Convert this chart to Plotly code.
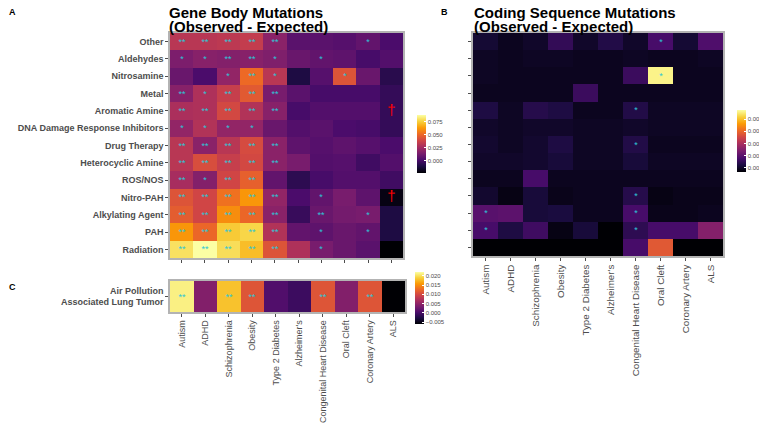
import plotly.graph_objects as go

# the page adds an 8px body margin, so the figure is drawn 8px smaller
OFF = 8
W, H = 767 - OFF, 430 - OFF

diseases = ["Autism", "ADHD", "Schizophrenia", "Obesity", "Type 2 Diabetes",
            "Alzheimer's", "Congenital Heart Disease", "Oral Cleft",
            "Coronary Artery", "ALS"]
exposures = ["Other", "Aldehydes", "Nitrosamine", "Metal", "Aromatic Amine",
             "DNA Damage Response Inhibitors", "Drug Therapy", "Heterocyclic Amine",
             "ROS/NOS", "Nitro-PAH", "Alkylating Agent", "PAH", "Radiation"]
lung_label = ["Air Pollution<br>Associated Lung Tumor"]

# gene body mutations (observed - expected), one row per exposure
gene_body = [
    [0.032, 0.032, 0.033, 0.035, 0.019, 0.006, 0.006, 0.005, 0.008, 0.002],
    [0.015, 0.018, 0.017, 0.018, 0.016, 0.010, 0.008, 0.007, 0.001, 0.004],
    [0.010, 0.002, 0.021, 0.051, 0.032, -0.010, 0.005, 0.044, 0.010, -0.007],
    [0.018, 0.029, 0.036, 0.046, 0.014, 0.006, 0.001, 0.001, 0.001, -0.004],
    [0.028, 0.029, 0.040, 0.030, 0.018, 0.001, 0.004, 0.004, 0.004, -0.004],
    [0.021, 0.030, 0.021, 0.021, 0.010, 0.004, 0.006, 0.002, 0.001, -0.004],
    [0.032, 0.019, 0.032, 0.041, 0.019, 0.007, 0.005, 0.007, 0.005, 0.002],
    [0.032, 0.042, 0.036, 0.040, 0.019, 0.014, 0.004, 0.005, -0.001, 0.004],
    [0.027, 0.017, 0.039, 0.048, 0.008, -0.006, 0.001, 0.004, 0.004, -0.001],
    [0.044, 0.039, 0.053, 0.062, 0.021, 0.002, 0.008, 0.014, 0.007, -0.020],
    [0.047, 0.039, 0.060, 0.050, 0.019, -0.003, 0.010, 0.013, 0.014, -0.010],
    [0.062, 0.050, 0.074, 0.077, 0.030, 0.008, 0.007, 0.010, 0.008, -0.010],
    [0.080, 0.088, 0.079, 0.071, 0.044, 0.029, 0.014, 0.010, 0.006, -0.023],
]
gene_body_sig = [
    ["**", "**", "**", "**", "**", "", "", "", "*", ""],
    ["*", "*", "**", "**", "*", "", "*", "", "", ""],
    ["", "", "*", "**", "*", "", "", "*", "", ""],
    ["**", "*", "**", "**", "**", "", "", "", "", ""],
    ["**", "**", "**", "**", "**", "", "", "", "", ""],
    ["*", "*", "*", "*", "", "", "", "", "", ""],
    ["**", "**", "**", "**", "**", "", "", "", "", ""],
    ["**", "**", "**", "**", "**", "", "", "", "", ""],
    ["**", "*", "**", "**", "", "", "", "", "", ""],
    ["**", "**", "**", "**", "**", "", "*", "", "", ""],
    ["**", "**", "**", "**", "**", "", "**", "", "*", ""],
    ["**", "**", "**", "**", "**", "", "*", "", "*", ""],
    ["**", "**", "**", "**", "**", "", "*", "", "", ""],
]
dagger_x = ["ALS", "ALS"]
dagger_y = ["Aromatic Amine", "Nitro-PAH"]

# coding sequence mutations (observed - expected)
coding_seq = [
    [0.0002, -0.0002, 0.0000, 0.0010, 0.0000, 0.0006, 0.0000, 0.0015, 0.0002, 0.0017],
    [-0.0001, -0.0002, -0.0001, -0.0001, -0.0002, -0.0002, -0.0001, -0.0002, -0.0002, -0.0001],
    [-0.0001, -0.0002, -0.0002, -0.0002, -0.0002, -0.0002, 0.0012, 0.0092, -0.0002, -0.0002],
    [-0.0002, -0.0002, -0.0002, -0.0002, 0.0012, -0.0002, -0.0002, -0.0002, -0.0002, -0.0002],
    [0.0005, -0.0001, 0.0007, 0.0005, -0.0002, -0.0002, 0.0006, -0.0001, -0.0001, -0.0001],
    [0.0000, -0.0001, 0.0000, 0.0000, -0.0001, -0.0001, 0.0000, -0.0001, -0.0001, -0.0001],
    [0.0001, -0.0001, 0.0001, 0.0005, -0.0001, -0.0001, 0.0006, -0.0002, -0.0002, -0.0002],
    [0.0000, 0.0000, 0.0001, 0.0003, -0.0001, -0.0001, 0.0003, -0.0001, -0.0001, -0.0001],
    [-0.0002, -0.0002, 0.0015, -0.0002, -0.0002, -0.0002, -0.0002, -0.0002, -0.0002, -0.0002],
    [0.0001, -0.0004, 0.0003, -0.0003, -0.0002, -0.0002, 0.0007, -0.0004, -0.0003, -0.0003],
    [0.0019, 0.0020, 0.0003, 0.0004, -0.0002, -0.0002, 0.0015, -0.0003, -0.0003, -0.0002],
    [0.0015, 0.0005, 0.0013, -0.0004, 0.0003, -0.0007, 0.0009, 0.0015, 0.0015, 0.0030],
    [-0.0007, -0.0007, -0.0007, -0.0007, -0.0007, -0.0007, 0.0015, 0.0056, -0.0007, -0.0007],
]
coding_sig = [
    ["", "", "", "", "", "", "", "*", "", ""],
    ["", "", "", "", "", "", "", "", "", ""],
    ["", "", "", "", "", "", "", "*", "", ""],
    ["", "", "", "", "", "", "", "", "", ""],
    ["", "", "", "", "", "", "*", "", "", ""],
    ["", "", "", "", "", "", "", "", "", ""],
    ["", "", "", "", "", "", "*", "", "", ""],
    ["", "", "", "", "", "", "", "", "", ""],
    ["", "", "", "", "", "", "", "", "", ""],
    ["", "", "", "", "", "", "*", "", "", ""],
    ["*", "", "", "", "", "", "*", "", "", ""],
    ["*", "", "", "", "", "", "*", "", "", ""],
    ["", "", "", "", "", "", "", "", "", ""],
]

# air pollution associated lung tumor
lung = [[0.021, 0.004, 0.018, 0.011, 0.0007, -0.0007, 0.011, 0.004, 0.011, -0.006]]
lung_sig = [["**", "", "**", "**", "", "", "**", "", "**", ""]]

FONT = "Liberation Sans, Arial, sans-serif"
GREY = "#4d4d4d"
STAR = dict(color="#2ec6d6", size=9, family=FONT)


# reference pixel coords -> paper fractions
def fx(x):
    return (x - OFF) / W


def fy(y):
    return 1 - (y - OFF) / H


def px(x0, x1):
    return [fx(x0), fx(x1)]


def py(y0, y1):
    return [fy(y1), fy(y0)]


def cbar(x, yc, length, ticks):
    return dict(x=fx(x), xanchor="left", xpad=0, ypad=0, y=fy(yc),
                yanchor="middle", lenmode="pixels", len=length, thickness=9,
                outlinewidth=0, tickvals=ticks, tickformat=".3f", ticks="inside",
                ticklen=2, tickcolor="white",
                tickfont=dict(size=6, color=GREY, family=FONT))


fig = go.Figure()
fig.add_trace(go.Heatmap(
    z=gene_body, x=diseases, y=exposures, colorscale="Inferno",
    zmin=-0.023, zmax=0.088, text=gene_body_sig, texttemplate="%{text}",
    textfont=STAR, xaxis="x", yaxis="y",
    colorbar=cbar(417, 144, 58, [0, 0.025, 0.05, 0.075])))
fig.add_trace(go.Scatter(
    x=dagger_x, y=dagger_y, mode="text", text=["†"] * len(dagger_x),
    textfont=dict(color="red", size=15, family=FONT),
    xaxis="x", yaxis="y", showlegend=False, hoverinfo="skip"))
fig.add_trace(go.Heatmap(
    z=coding_seq, x=diseases, y=exposures, colorscale="Inferno",
    zmin=-0.0007, zmax=0.0095, text=coding_sig, texttemplate="%{text}",
    textfont=STAR, xaxis="x2", yaxis="y2",
    colorbar=cbar(737, 141, 62, [0, 0.002, 0.004, 0.006, 0.008])))
fig.add_trace(go.Heatmap(
    z=lung, x=diseases, y=lung_label, colorscale="Inferno",
    zmin=-0.006, zmax=0.022, text=lung_sig, texttemplate="%{text}",
    textfont=STAR, xaxis="x3", yaxis="y3",
    colorbar=cbar(415, 298, 52, [-0.005, 0, 0.005, 0.01, 0.015, 0.02])))

axis_common = dict(showline=True, mirror=True, linecolor="#b3b3b3", linewidth=1.5,
                   ticks="outside", ticklen=3, tickcolor=GREY, showgrid=False,
                   zeroline=False, fixedrange=True)
ylab = dict(tickfont=dict(size=9, color=GREY, family=FONT, weight="bold"))

fig.update_layout(
    width=W, height=H, margin=dict(l=0, r=0, t=0, b=0),
    paper_bgcolor="white", plot_bgcolor="white", font=dict(family=FONT),
    xaxis=dict(domain=px(170, 403), anchor="y", showticklabels=False, **axis_common),
    yaxis=dict(domain=py(33, 258), anchor="x", autorange="reversed", **ylab, **axis_common),
    xaxis2=dict(domain=px(473, 723), anchor="y2", tickangle=-90,
                tickfont=dict(size=9.8, color=GREY, family=FONT), **axis_common),
    yaxis2=dict(domain=py(33, 256), anchor="x2", autorange="reversed",
                showticklabels=False, **axis_common),
    xaxis3=dict(domain=px(170, 405), anchor="y3", tickangle=-90,
                tickfont=dict(size=9, color=GREY, family=FONT), **axis_common),
    yaxis3=dict(domain=py(281, 312), anchor="x3", **ylab, **axis_common),
)

# x, y centre (reference pixels), text, size
titles = [
    (168, 12.5, "Gene Body Mutations", 15),
    (168, 26.5, "(Observed - Expected)", 15),
    (473, 12.5, "Coding Sequence Mutations", 15),
    (473, 26.5, "(Observed - Expected)", 15),
    (8, 12, "A", 9),
    (440, 12, "B", 9),
    (8, 287, "C", 9),
]
for x, y, t, s in titles:
    fig.add_annotation(x=fx(x), y=fy(y), xref="paper", yref="paper", text=t,
                       showarrow=False, xanchor="left", yanchor="middle",
                       borderpad=0,
                       font=dict(size=s, color="black", family=FONT, weight="bold"))

fig.write_html("out.html")
